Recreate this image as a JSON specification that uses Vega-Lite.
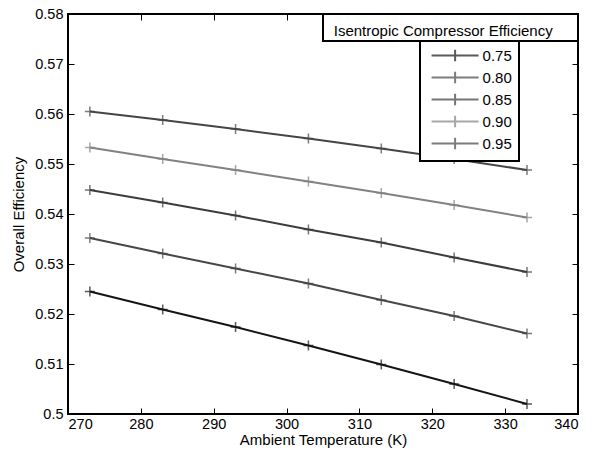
{
  "$schema": "https://vega.github.io/schema/vega-lite/v6.json",
  "width": 510,
  "height": 400,
  "autosize": {"type": "none"},
  "padding": {"left": 68, "top": 14, "right": 14, "bottom": 46},
  "background": "white",
  "config": {
    "font": "Liberation Sans",
    "view": {"stroke": "black", "strokeWidth": 2},
    "axis": {
      "domain": false,
      "grid": false,
      "tickColor": "black",
      "tickSize": -6,
      "tickWidth": 1,
      "labelColor": "black",
      "labelFontSize": 14.5,
      "labelFont": "Liberation Sans",
      "titleFont": "Liberation Sans",
      "titleFontSize": 15,
      "titleFontWeight": "normal",
      "titleColor": "black"
    },
    "legend": {"strokeWidth": 2}
  },
  "datasets": {
    "curves": [
      {"series": "0.75", "T": 273, "eff": 0.5245},
      {"series": "0.75", "T": 283, "eff": 0.5209},
      {"series": "0.75", "T": 293, "eff": 0.5174},
      {"series": "0.75", "T": 303, "eff": 0.5137},
      {"series": "0.75", "T": 313, "eff": 0.5099},
      {"series": "0.75", "T": 323, "eff": 0.5060},
      {"series": "0.75", "T": 333, "eff": 0.5020},
      {"series": "0.80", "T": 273, "eff": 0.5352},
      {"series": "0.80", "T": 283, "eff": 0.5321},
      {"series": "0.80", "T": 293, "eff": 0.5291},
      {"series": "0.80", "T": 303, "eff": 0.5261},
      {"series": "0.80", "T": 313, "eff": 0.5228},
      {"series": "0.80", "T": 323, "eff": 0.5196},
      {"series": "0.80", "T": 333, "eff": 0.5161},
      {"series": "0.85", "T": 273, "eff": 0.5448},
      {"series": "0.85", "T": 283, "eff": 0.5423},
      {"series": "0.85", "T": 293, "eff": 0.5397},
      {"series": "0.85", "T": 303, "eff": 0.5369},
      {"series": "0.85", "T": 313, "eff": 0.5343},
      {"series": "0.85", "T": 323, "eff": 0.5313},
      {"series": "0.85", "T": 333, "eff": 0.5284},
      {"series": "0.90", "T": 273, "eff": 0.5533},
      {"series": "0.90", "T": 283, "eff": 0.5510},
      {"series": "0.90", "T": 293, "eff": 0.5488},
      {"series": "0.90", "T": 303, "eff": 0.5465},
      {"series": "0.90", "T": 313, "eff": 0.5442},
      {"series": "0.90", "T": 323, "eff": 0.5418},
      {"series": "0.90", "T": 333, "eff": 0.5393},
      {"series": "0.95", "T": 273, "eff": 0.5605},
      {"series": "0.95", "T": 283, "eff": 0.5588},
      {"series": "0.95", "T": 293, "eff": 0.5570},
      {"series": "0.95", "T": 303, "eff": 0.5551},
      {"series": "0.95", "T": 313, "eff": 0.5531},
      {"series": "0.95", "T": 323, "eff": 0.5510},
      {"series": "0.95", "T": 333, "eff": 0.5488}
    ],
    "legendTitle": [
      {"label": "Isentropic Compressor Efficiency"}
    ]
  },
  "resolve": {"axis": {"x": "independent", "y": "independent"}},
  "layer": [
    {
      "data": {"name": "curves"},
      "mark": {"type": "line", "strokeWidth": 2},
      "encoding": {
        "x": {
          "field": "T", "type": "quantitative",
          "scale": {"domain": [270, 340], "nice": false, "zero": false},
          "axis": {"orient": "bottom", "title": "Ambient Temperature (K)", "values": [270, 280, 290, 300, 310, 320, 330, 340], "labelPadding": 9, "titlePadding": 2}
        },
        "y": {
          "field": "eff", "type": "quantitative",
          "scale": {"domain": [0.5, 0.58], "nice": false, "zero": false},
          "axis": {"orient": "left", "title": "Overall Efficiency", "values": [0.5, 0.51, 0.52, 0.53, 0.54, 0.55, 0.56, 0.57, 0.58], "format": ".2~f", "labelPadding": 11, "titlePadding": 8}
        },
        "color": {
          "field": "series", "type": "nominal",
          "scale": {"domain": ["0.75", "0.80", "0.85", "0.90", "0.95"], "range": ["#151515", "#474747", "#3c3c3c", "#828282", "#454545"]},
          "legend": {
            "orient": "none", "legendX": 352, "legendY": 27, "title": null,
            "strokeColor": "black", "fillColor": "white", "padding": 7,
            "symbolType": "M-4,0L4,0M0,-1L0,1", "symbolSize": 138,
            "symbolOffset": 20.6,
            "symbolStrokeWidth": 2, "symbolFillColor": "transparent",
            "labelFontSize": 15, "labelColor": "black", "labelOffset": 20,
            "rowPadding": 1
          }
        }
      }
    },
    {
      "data": {"name": "curves"},
      "mark": {"type": "point", "shape": "M-1,0L1,0M0,-1L0,1", "size": 100, "strokeWidth": 1.5, "filled": false},
      "encoding": {
        "x": {"field": "T", "type": "quantitative", "axis": {"orient": "top", "labels": false, "title": null, "values": [270, 280, 290, 300, 310, 320, 330, 340]}},
        "y": {"field": "eff", "type": "quantitative", "axis": {"orient": "right", "labels": false, "title": null, "values": [0.5, 0.51, 0.52, 0.53, 0.54, 0.55, 0.56, 0.57, 0.58]}},
        "color": {"field": "series", "type": "nominal"}
      }
    },
    {
      "data": {"name": "legendTitle"},
      "mark": {"type": "rect", "fill": "white", "stroke": "black", "strokeWidth": 2},
      "encoding": {
        "x": {"datum": 305, "type": "quantitative", "axis": null},
        "x2": {"datum": 340},
        "y": {"datum": 0.58, "type": "quantitative", "axis": null},
        "y2": {"datum": 0.5746}
      }
    },
    {
      "data": {"name": "legendTitle"},
      "mark": {"type": "text", "fontSize": 15, "fill": "black", "font": "Liberation Sans", "align": "center", "baseline": "middle"},
      "encoding": {
        "x": {"datum": 321.5, "type": "quantitative", "axis": null},
        "y": {"datum": 0.5767, "type": "quantitative", "axis": null},
        "text": {"field": "label"}
      }
    }
  ]
}
